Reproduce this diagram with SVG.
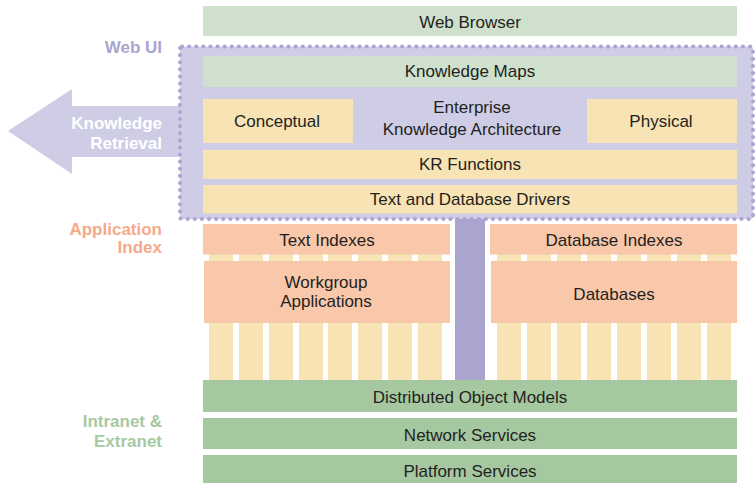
<svg xmlns="http://www.w3.org/2000/svg" width="756" height="483" viewBox="0 0 756 483">
  <style>
    text { font-family: "Liberation Sans", Arial, sans-serif; font-size: 17px; fill: #231f20; text-anchor: middle; }
    .side { font-weight: bold; text-anchor: end; }
    .ui { fill: #aaa5d0; }
    .app { fill: #f6a98a; }
    .net { fill: #a7c9a1; }
    .arrowtxt { fill: #ffffff; }
    .lgreen { fill: #cfe0cc; }
    .yellow { fill: #f7e3b4; }
    .salmon { fill: #f9c7aa; }
    .green { fill: #a5c8a0; }
    .lilac { fill: #cfcce5; }
  </style>

  <!-- side labels -->
  <g id="labels">
    <text class="side ui" x="162" y="53">Web UI</text>
    <text class="side app" x="162" y="235">Application</text>
    <text class="side app" x="162" y="253">Index</text>
    <text class="side net" x="162" y="427">Intranet &amp;</text>
    <text class="side net" x="162" y="447">Extranet</text>
  </g>

  <!-- retrieval arrow leaving the web UI layer -->
  <g id="knowledge-retrieval">
    <polygon class="lilac" points="8,131 72,89 72,106 182,106 182,157 72,157 72,174"/>
    <text class="side arrowtxt" x="162" y="129">Knowledge</text>
    <text class="side arrowtxt" x="162" y="149">Retrieval</text>
  </g>

  <g id="web-browser">
    <rect class="lgreen" x="203" y="6" width="534" height="30"/>
    <text x="470" y="28">Web Browser</text>
  </g>

  <!-- web UI layer -->
  <g id="web-ui">
    <rect class="lilac" x="180" y="46.5" width="573" height="172.5" rx="2" stroke="#aaa5d3" stroke-width="4" stroke-dasharray="0.1 7" stroke-linecap="round"/>
  </g>

  <g id="knowledge-maps">
    <rect class="lgreen" x="203" y="56" width="534" height="31"/>
    <text x="470" y="77">Knowledge Maps</text>
  </g>

  <g id="conceptual">
    <rect class="yellow" x="203" y="99" width="150" height="44"/>
    <text x="277" y="127">Conceptual</text>
  </g>

  <g id="enterprise-architecture">
    <text x="472" y="113">Enterprise</text>
    <text x="472" y="135">Knowledge Architecture</text>
  </g>

  <g id="physical">
    <rect class="yellow" x="587" y="99" width="150" height="44"/>
    <text x="661" y="127">Physical</text>
  </g>

  <g id="kr-functions">
    <rect class="yellow" x="203" y="150" width="534" height="29"/>
    <text x="470" y="170">KR Functions</text>
  </g>

  <g id="drivers">
    <rect class="yellow" x="203" y="185" width="534" height="28.5"/>
    <text x="470" y="205">Text and Database Drivers</text>
  </g>

  <!-- connectors: application pillars and the central link down to the object layer -->
  <g id="connectors">
    <g class="yellow">
      <rect x="209" y="245" width="24" height="135"/>
      <rect x="239" y="245" width="24" height="135"/>
      <rect x="269" y="245" width="24" height="135"/>
      <rect x="299" y="245" width="24" height="135"/>
      <rect x="328" y="245" width="24" height="135"/>
      <rect x="358" y="245" width="24" height="135"/>
      <rect x="388" y="245" width="24" height="135"/>
      <rect x="418" y="245" width="24" height="135"/>
      <rect x="497" y="245" width="24" height="135"/>
      <rect x="527" y="245" width="24" height="135"/>
      <rect x="557" y="245" width="24" height="135"/>
      <rect x="587" y="245" width="24" height="135"/>
      <rect x="617" y="245" width="24" height="135"/>
      <rect x="647" y="245" width="24" height="135"/>
      <rect x="677" y="245" width="24" height="135"/>
      <rect x="707" y="245" width="24" height="135"/>
    </g>
    <rect x="455" y="219" width="30" height="161" fill="#aaa5cf"/>
  </g>

  <g id="text-indexes">
    <rect class="salmon" x="203" y="224" width="247" height="30.5"/>
    <text x="327" y="246">Text Indexes</text>
  </g>

  <g id="database-indexes">
    <rect class="salmon" x="490" y="224" width="247" height="30.5"/>
    <text x="614" y="246">Database Indexes</text>
  </g>

  <g id="workgroup-applications">
    <rect class="salmon" x="204" y="261" width="246" height="62"/>
    <text x="326" y="288">Workgroup</text>
    <text x="326" y="307">Applications</text>
  </g>

  <g id="databases">
    <rect class="salmon" x="491" y="261" width="246" height="62"/>
    <text x="614" y="300">Databases</text>
  </g>

  <g id="distributed-object-models">
    <rect class="green" x="203" y="380" width="534" height="32"/>
    <text x="470" y="403">Distributed Object Models</text>
  </g>

  <g id="network-services">
    <rect class="green" x="203" y="418" width="534" height="31"/>
    <text x="470" y="441">Network Services</text>
  </g>

  <g id="platform-services">
    <rect class="green" x="203" y="455" width="534" height="29"/>
    <text x="470" y="477">Platform Services</text>
  </g>
</svg>
